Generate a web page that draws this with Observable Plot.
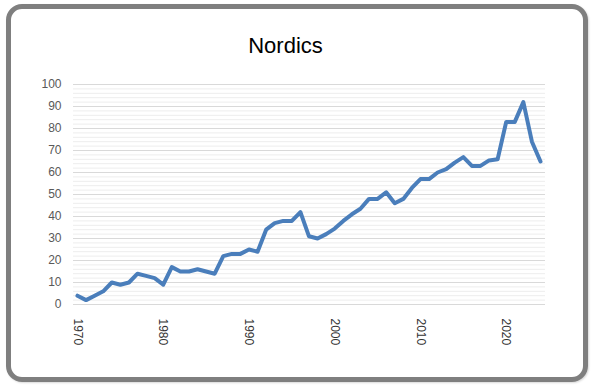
<!DOCTYPE html>
<html>
<head>
<meta charset="utf-8">
<script src="https://cdn.jsdelivr.net/npm/d3@7"></script>
<script src="https://cdn.jsdelivr.net/npm/@observablehq/plot@0.6"></script>
<style>
  html, body { margin: 0; padding: 0; background: #ffffff; }
  #wrap { position: relative; width: 593px; height: 387px; overflow: hidden; background: #fff; }
  #frame { position: absolute; left: 6px; top: 4px; width: 582px; height: 378px; box-sizing: border-box;
           border: 5px solid #7f7f7f; border-radius: 16px; box-shadow: 1px 1px 2px rgba(0,0,0,0.15); }
  #title { position: absolute; left: -11px; width: 593px; top: 35px; text-align: center;
           font-family: "Liberation Sans", Arial, sans-serif; font-size: 22px; line-height: 22px; color: #000; }
  #chart { position: absolute; left: 0; top: 0; }
</style>
</head>
<body>
<div id="wrap">
  <div id="frame"></div>
  <div id="title">Nordics</div>
  <div id="chart"></div>
</div>
<script>
const years = [1970,1971,1972,1973,1974,1975,1976,1977,1978,1979,
               1980,1981,1982,1983,1984,1985,1986,1987,1988,1989,
               1990,1991,1992,1993,1994,1995,1996,1997,1998,1999,
               2000,2001,2002,2003,2004,2005,2006,2007,2008,2009,
               2010,2011,2012,2013,2014,2015,2016,2017,2018,2019,
               2020,2021,2022,2023,2024];
const values = [4,2,4,6,10,9,10,14,13,12,
                9,17,15,15,16,15,14,22,23,23,
                25,24,34,37,38,38,42,31,30,32,
                34.5,38,41,43.5,48,48,51,46,48,53,
                57,57,60,61.5,64.5,67,63,63,65.5,66,
                83,83,92,74,65];
const xTickLabels = [1970,1980,1990,2000,2010,2020];
const yTicks = [0,10,20,30,40,50,60,70,80,90,100];

const data = years.map((y, i) => ({year: y, value: values[i]}));
const minorTicks = d3.range(0, 101, 2).filter(d => d % 10 !== 0);

const chart = Plot.plot({
  width: 593,
  height: 387,
  marginLeft: 73,
  marginRight: 48,
  marginTop: 84,
  marginBottom: 83,
  style: { background: "transparent", fontFamily: "'Liberation Sans', Arial, sans-serif" },
  x: { type: "linear", domain: [1970, 2024], insetLeft: 4, insetRight: 5 },
  y: { domain: [0, 100] },
  marks: [
    Plot.ruleY(minorTicks, { stroke: "#ededed", strokeWidth: 1 }),
    Plot.ruleY(yTicks, { stroke: "#d9d9d9", strokeWidth: 1 }),
    Plot.axisY(yTicks, { tickSize: 0, tickPadding: 12, fontSize: 12, fill: "#595959", label: null }),
    Plot.axisX(xTickLabels, { tickSize: 0, tickRotate: 90, tickPadding: 14, fontSize: 12, fill: "#333",
                              tickFormat: d => String(d), label: null }),
    Plot.line(data, { x: "year", y: "value", stroke: "#4a7ebb", strokeWidth: 4, strokeLinejoin: "round", strokeLinecap: "round" })
  ]
});
document.getElementById("chart").appendChild(chart);
</script>
</body>
</html>
